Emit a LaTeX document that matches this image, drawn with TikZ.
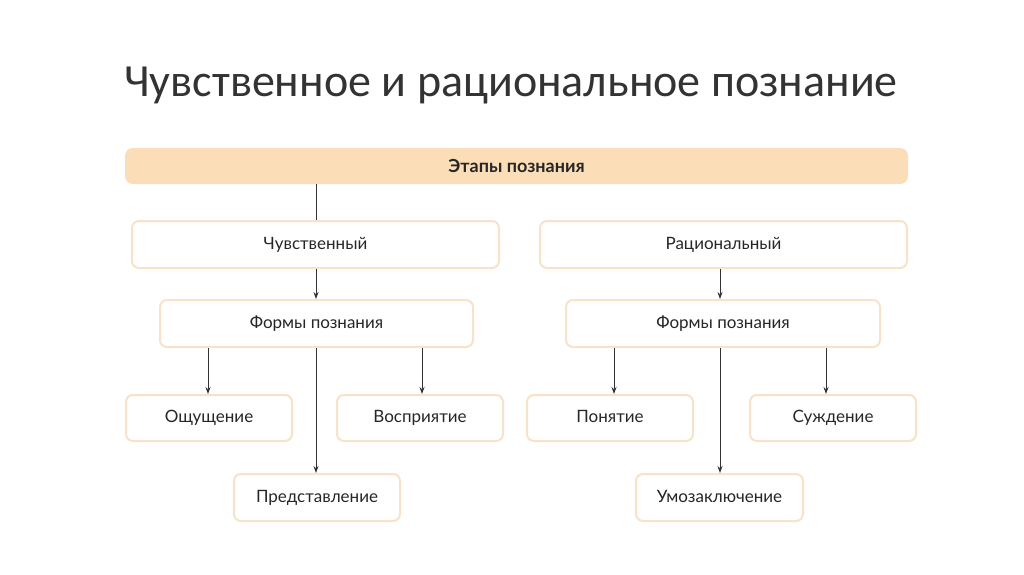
\documentclass[tikz,border=0pt]{standalone}
\usepackage{fontspec}
\usetikzlibrary{arrows.meta}
\setmainfont{Lato}
\newfontfamily\titlefont{Carlito}
\definecolor{barfill}{HTML}{FBDDB8}
\definecolor{boxline}{HTML}{F7E3C8}
\begin{document}
\begin{tikzpicture}[x=1pt,y=-1pt,
  box/.style={draw=boxline,line width=2pt,fill=white,rounded corners=7pt,font=\fontsize{17}{19}\selectfont,text=black!85,text height=12pt,text depth=3pt},
  arr/.style={-{Stealth[length=7pt,width=5pt]},line width=0.9pt,black!80},
  ln/.style={line width=0.9pt,black!80}]
\useasboundingbox[fill=white] (0,0) rectangle (1024,574);
\node[font=\titlefont\fontsize{46}{52}\selectfont,text=black!80] (title) at (511,86) {Чувственное и рациональное познание};
\node[fill=barfill,rounded corners=8pt,minimum width=783pt,minimum height=36pt,font=\bfseries\fontsize{18}{20}\selectfont,text=black!85] (bar) at (516.5,166) {Этапы познания};
\def\mk#1#2#3#4#5#6{\node[box,minimum width=#4pt,minimum height=#5pt] (#1) at (#2,#3) {#6};}
\mk{ch}{315.5}{244.5}{367}{47}{Чувственный}
\mk{ra}{723.5}{244.5}{367}{47}{Рациональный}
\mk{fl}{316.5}{323.5}{313}{47}{Формы познания}
\mk{fr}{723}{323.5}{314}{47}{Формы познания}
\mk{os}{209}{418}{166}{46}{Ощущение}
\mk{vo}{420}{418}{166}{46}{Восприятие}
\mk{po}{610}{418}{166}{46}{Понятие}
\mk{su}{833}{418}{166}{46}{Суждение}
\mk{pr}{317}{497.5}{166}{47}{Представление}
\mk{um}{719.5}{497.5}{167}{47}{Умозаключение}
\draw[ln] (316,0 |- bar.south) -- (316,0 |- ch.north);
\draw[arr] (316,0 |- ch.south) -- (316,0 |- fl.north);
\draw[arr] (720,0 |- ra.south) -- (720,0 |- fr.north);
\draw[arr] (208,0 |- fl.south) -- (208,0 |- os.north);
\draw[arr] (422,0 |- fl.south) -- (422,0 |- vo.north);
\draw[arr] (316,0 |- fl.south) -- (316,0 |- pr.north);
\draw[arr] (614,0 |- fr.south) -- (614,0 |- po.north);
\draw[arr] (826,0 |- fr.south) -- (826,0 |- su.north);
\draw[arr] (720,0 |- fr.south) -- (720,0 |- um.north);
\end{tikzpicture}
\end{document}
